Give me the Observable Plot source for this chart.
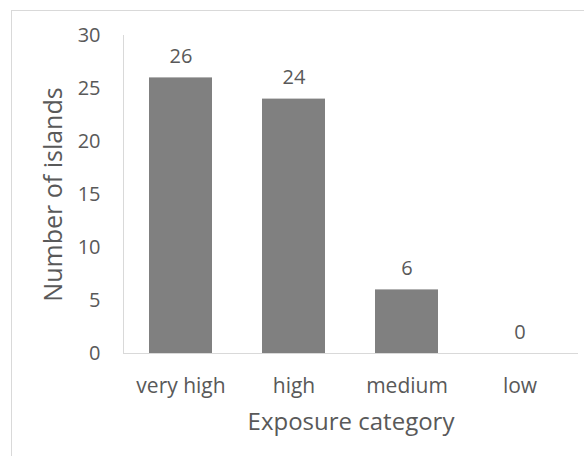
<!DOCTYPE html>
<html>
<head>
<meta charset="utf-8">
<script src="https://cdn.jsdelivr.net/npm/d3@7"></script>
<script src="https://cdn.jsdelivr.net/npm/@observablehq/plot@0.6"></script>
<style>
  html, body { margin: 0; padding: 0; background: #fff; }
  #wrap { position: relative; width: 584px; height: 456px; overflow: hidden; }
  #border { position: absolute; left: 11px; top: 10px; width: 600px; height: 500px; border: 1px solid #d9d9d9; box-sizing: border-box; }
  #chart { position: absolute; left: 0; top: 0; }
</style>
</head>
<body>
<div id="wrap"><div id="border"></div><div id="chart"></div></div>
<script>
const categories = ["very high", "high", "medium", "low"];
const counts = [26, 24, 6, 0];
const yTicks = [0, 5, 10, 15, 20, 25, 30];
const xTitle = "Exposure category";
const yTitle = "Number of islands";

const data = categories.map((c, i) => ({category: c, count: counts[i]}));
const textColor = "#595959";
const font = "'Open Sans', 'Noto Sans', sans-serif";

const chart = Plot.plot({
  width: 584,
  height: 456,
  marginLeft: 123,
  marginRight: 6,
  marginTop: 35,
  marginBottom: 103,
  style: {fontFamily: font, color: textColor, background: "transparent", fontSize: "20px"},
  x: {domain: categories, paddingInner: 0.44, paddingOuter: 0.22, label: null},
  y: {domain: [0, 30], label: null},
  marks: [
    Plot.barY(data, {x: "category", y: "count", fill: "#808080"}),
    Plot.ruleY([0], {stroke: "#d9d9d9", strokeWidth: 1}),
    Plot.frame({anchor: "left", stroke: "#d9d9d9"}),
    Plot.axisY(yTicks, {tickSize: 0, tickPadding: 23, fontSize: 20, label: null, fill: textColor}),
    Plot.axisX({tickSize: 0, tickPadding: 25, fontSize: 21, label: null, fill: textColor}),
    Plot.text(data, {x: "category", y: "count", text: d => String(d.count), lineAnchor: "bottom", dy: -15, fontSize: 20, fill: textColor}),
    Plot.text([xTitle], {frameAnchor: "bottom", dy: 76, fontSize: 24, fill: textColor}),
    Plot.text([yTitle], {frameAnchor: "left", textAnchor: "middle", dx: -70, rotate: -90, fontSize: 25, fill: textColor})
  ]
});
document.getElementById("chart").appendChild(chart);
</script>
</body>
</html>
